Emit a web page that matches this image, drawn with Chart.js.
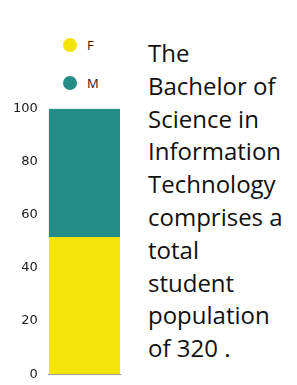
<!DOCTYPE html>
<html>
<head>
<meta charset="utf-8">
<script src="https://cdn.jsdelivr.net/npm/chart.js@4.4.0/dist/chart.umd.min.js"></script>
<style>
  body { margin: 0; width: 297px; height: 385px; background: #fff; position: relative; overflow: hidden; font-family: "Open Sans", sans-serif; }
  #legend { position: absolute; left: 63px; top: 37px; }
  .item { display: flex; align-items: center; height: 16px; margin-bottom: 22px; font-size: 13px; color: #1a1a1a; }
  .dot { width: 14px; height: 14px; border-radius: 50%; margin-right: 10px; }
  #chartBox { position: absolute; left: 0; top: 90px; width: 125px; height: 303px; }
  #blurb { position: absolute; left: 148px; top: 37px; font-size: 24px; line-height: 32.8px; color: #111; }
</style>
</head>
<body>
<div id="legend"></div>
<div id="chartBox"><canvas id="myChart"></canvas></div>
<div id="blurb">The<br>Bachelor of<br>Science in<br>Information<br>Technology<br>comprises a<br>total<br>student<br>population<br>of 320 .</div>
<script>
const categories = ['BSIT'];
const seriesNames = ['F', 'M'];
const femaleValues = [51.6];
const maleValues = [48.4];
const seriesColors = ['#f5e40b', '#248d88'];
const yTicks = [0, 20, 40, 60, 80, 100];

// legend drawn as html so the two entries line up in a column
const legendEl = document.getElementById('legend');
seriesNames.forEach(function(name, i) {
    const row = document.createElement('div');
    row.className = 'item';
    row.innerHTML = '<span class="dot" style="background:' + seriesColors[i] + '"></span>' + name;
    legendEl.appendChild(row);
});

var ctx = document.getElementById('myChart').getContext('2d');
new Chart(ctx, {
    type: 'bar',
    data: {
        labels: categories,
        datasets: [
            { label: seriesNames[0], data: femaleValues, backgroundColor: seriesColors[0], borderWidth: 0 },
            { label: seriesNames[1], data: maleValues, backgroundColor: seriesColors[1], borderWidth: 0 }
        ]
    },
    options: {
        responsive: true,
        maintainAspectRatio: false,
        animation: false,
        layout: { padding: { left: 2, right: 5, top: 2, bottom: 2 } },
        datasets: { bar: { barPercentage: 1, categoryPercentage: 1 } },
        plugins: { legend: { display: false }, tooltip: { enabled: false } },
        scales: {
            x: {
                stacked: true,
                grid: { display: false, drawTicks: false },
                border: { display: true, color: '#9a9a9a', width: 1 },
                ticks: { display: false }
            },
            y: {
                stacked: true,
                min: yTicks[0],
                max: yTicks[yTicks.length - 1],
                grid: { display: false, drawTicks: false },
                border: { display: false },
                afterBuildTicks: function(axis) {
                    axis.ticks = yTicks.map(function(v) { return { value: v }; });
                },
                ticks: { padding: 11, color: '#1a1a1a', font: { family: 'DejaVu Sans', size: 13 } }
            }
        }
    }
});
</script>
</body>
</html>
